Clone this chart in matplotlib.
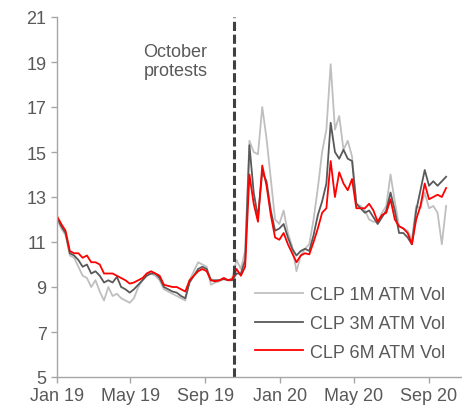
import matplotlib
matplotlib.use("Agg")
import matplotlib.pyplot as plt
import matplotlib.dates as mdates
import numpy as np
import pandas as pd

plt.rcParams['font.family'] = ['Liberation Sans', 'DejaVu Sans']

# weekly observations starting Jan 2019
dates = pd.date_range('2019-01-01', periods=92, freq='7D')

vol_1m = [12.0, 11.6, 11.3, 10.4, 10.3, 9.9, 9.5, 9.4, 9.0, 9.3,
          8.8, 8.4, 9.0, 8.6, 8.7, 8.5, 8.4, 8.3, 8.5, 9.0,
          9.3, 9.6, 9.6, 9.5, 9.3, 8.9, 8.8, 8.7, 8.6, 8.5,
          8.4, 9.3, 9.7, 10.1, 10.0, 9.9, 9.1, 9.2, 9.25, 9.4,
          9.3, 9.4, 10.2, 9.8, 10.6, 15.5, 15.0, 14.9, 17.0, 15.6,
          13.8, 12.0, 11.8, 12.4, 11.4, 10.8, 9.7, 10.4, 10.7, 10.9,
          12.0, 13.4, 15.0, 16.0, 18.9, 16.0, 16.6, 15.1, 15.5, 14.8,
          12.7, 12.6, 12.4, 12.0, 11.9, 11.9, 12.3, 12.6, 14.0, 12.8,
          11.7, 11.6, 11.5, 11.1, 12.6, 12.5, 13.2, 12.5, 12.6, 12.3,
          10.9, 12.6]

vol_3m = [12.1, 11.7, 11.4, 10.5, 10.4, 10.2, 9.9, 10.0, 9.6, 9.7,
          9.5, 9.2, 9.3, 9.2, 9.45, 9.0, 8.9, 8.75, 8.9, 9.1,
          9.3, 9.5, 9.6, 9.6, 9.4, 9.0, 8.9, 8.8, 8.75, 8.6,
          8.5, 9.2, 9.5, 9.8, 9.9, 9.8, 9.3, 9.3, 9.3, 9.35,
          9.3, 9.3, 9.6, 9.6, 10.2, 15.3, 13.2, 12.1, 14.1, 13.7,
          12.4, 11.5, 11.6, 11.8, 11.2, 10.7, 10.4, 10.6, 10.7, 10.6,
          11.3, 12.2, 12.8, 13.6, 16.3, 15.0, 14.7, 15.1, 14.7, 14.6,
          12.7, 12.5, 12.3, 12.4, 12.1, 11.8, 12.1, 12.4, 13.2, 12.4,
          11.4, 11.4, 11.2, 10.9, 12.4, 13.3, 14.2, 13.5, 13.7, 13.5,
          13.7, 13.9]

vol_6m = [12.15, 11.8, 11.5, 10.6, 10.5, 10.5, 10.3, 10.4, 10.1, 10.1,
          10.0, 9.6, 9.6, 9.6, 9.5, 9.4, 9.3, 9.15, 9.2, 9.3,
          9.4, 9.6, 9.7, 9.6, 9.5, 9.1, 9.05, 9.0, 9.0, 8.9,
          8.8, 9.3, 9.5, 9.7, 9.8, 9.7, 9.3, 9.25, 9.3, 9.4,
          9.3, 9.35, 9.8, 9.5, 9.9, 14.0, 12.7, 11.9, 14.4, 13.5,
          12.2, 11.2, 11.1, 11.4, 10.9, 10.5, 10.1, 10.4, 10.5, 10.45,
          11.0, 11.6, 12.3, 12.5, 14.6, 13.0, 14.1, 13.6, 13.3, 13.8,
          12.5, 12.5, 12.5, 12.7, 12.4, 11.9, 12.2, 12.3, 12.9, 12.0,
          11.7, 11.6, 11.4, 10.9, 12.0, 12.6, 13.6, 12.9, 13.0, 13.1,
          13.0, 13.4]

labels = ['CLP 1M ATM Vol', 'CLP 3M ATM Vol', 'CLP 6M ATM Vol']
colors = ['#BFBFBF', '#595959', '#FF0000']
protest_date = pd.Timestamp('2019-10-18')
txt = '#595959'

fig = plt.figure(figsize=(4.62, 4.10), dpi=100)
ax = fig.add_axes([57/462, 1 - 378/410, 1 - 57/462, 360/410])

for series, lab, col in zip([vol_1m, vol_3m, vol_6m], labels, colors):
    ax.plot(dates, series, color=col, lw=1.3, label=lab)

ax.axvline(protest_date, color='#404040', lw=2.2, ls=(0, (3, 1.2)))
ax.text(pd.Timestamp('2019-07-14'), 19.05, 'October\nprotests', ha='center', va='center',
        fontsize=13, color=txt, linespacing=1.1)

ax.set_ylim(5, 21)
ax.set_yticks(np.arange(5, 22, 2))
ax.set_xlim(pd.Timestamp('2019-01-01'), pd.Timestamp('2020-10-25'))
ax.set_xticks(pd.to_datetime(['2019-01-01', '2019-05-01', '2019-09-01',
                              '2020-01-01', '2020-05-01', '2020-09-01']))
ax.xaxis.set_major_formatter(mdates.DateFormatter('%b %y'))

for s in ['top', 'right']:
    ax.spines[s].set_visible(False)
for s in ['left', 'bottom']:
    ax.spines[s].set_color('#A6A6A6')
    ax.spines[s].set_linewidth(1.0)
ax.tick_params(colors='#A6A6A6', labelcolor=txt, labelsize=13, length=4, width=1.0)

ax.legend(loc='lower right', bbox_to_anchor=(1.0, 0.0), frameon=False, fontsize=13,
          handlelength=2.7, handletextpad=0.4, labelspacing=0.66, labelcolor=txt)

fig.savefig('out.png', dpi=100)
